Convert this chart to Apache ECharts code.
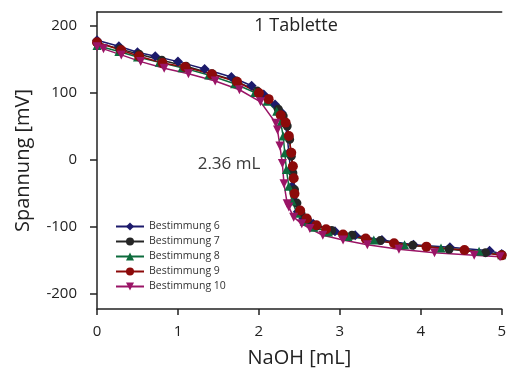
<!DOCTYPE html>
<html><head><meta charset="utf-8">
<script src="https://cdn.jsdelivr.net/npm/echarts@6/dist/echarts.min.js"></script>
<style>html,body{margin:0;padding:0;background:#fff}#c{width:509px;height:374px}</style>
</head><body><div id="c"></div>
<script>
const seriesNames = ['Bestimmung 6','Bestimmung 7','Bestimmung 8','Bestimmung 9','Bestimmung 10'];
const b6 = [[0,178],[0.27,169],[0.5,160],[0.72,154],[1.0,146],[1.33,135],[1.66,123],[1.91,110],[2.06,97],[2.2,82],[2.28,70],[2.32,55],[2.35,35],[2.37,10],[2.39,-15],[2.41,-40],[2.44,-62],[2.48,-78],[2.55,-88],[2.67,-96],[2.94,-107],[3.19,-113],[3.52,-120],[3.91,-127],[4.36,-131],[4.85,-136],[5.0,-141]];
const b7 = [[0,174],[0.28,165],[0.52,157],[0.8,148],[1.1,139],[1.42,128],[1.72,117],[1.98,102],[2.12,90],[2.24,75],[2.3,65],[2.35,50],[2.38,30],[2.4,5],[2.42,-20],[2.44,-45],[2.47,-65],[2.52,-80],[2.6,-90],[2.72,-99],[2.9,-106],[3.15,-113],[3.5,-121],[3.9,-128],[4.35,-134],[4.8,-139],[5.0,-142]];
const b8 = [[0,170],[0.27,161],[0.5,153],[0.77,145],[1.05,137],[1.38,126],[1.7,113],[1.95,100],[2.1,87],[2.22,72],[2.27,55],[2.3,35],[2.32,10],[2.34,-15],[2.37,-40],[2.41,-62],[2.47,-80],[2.56,-92],[2.68,-101],[2.86,-108],[3.1,-115],[3.42,-120],[3.8,-127],[4.25,-132],[4.72,-137],[5.0,-142]];
const b9 = [[0,175],[0.3,163],[0.52,154],[0.81,144],[1.09,138],[1.42,127],[1.73,116],[2.0,99],[2.12,90],[2.27,66],[2.33,55],[2.37,35],[2.4,10],[2.42,-10],[2.43,-28],[2.44,-51],[2.51,-76],[2.59,-88],[2.71,-98],[2.83,-104],[3.04,-112],[3.32,-118],[3.67,-125],[4.07,-130],[4.54,-135],[5.0,-143]];
const b10 = [[0,168],[0.08,165],[0.3,156],[0.54,146],[0.83,136],[1.13,128],[1.46,117],[1.76,104],[2.02,86],[2.21,54],[2.23,44],[2.26,20],[2.29,-6],[2.31,-36],[2.35,-66],[2.37,-71],[2.43,-86],[2.53,-96],[2.63,-103],[2.79,-113],[3.04,-120],[3.34,-127],[3.73,-134],[4.17,-139],[4.66,-143],[4.98,-145]];
const yTicks = [-200,-100,0,100,200];
const xTicks = [0,1,2,3,4,5];
const titleText = '1 Tablette';
const annotation = '2.36 mL';

const colors = ['#1c1a6b','#262626','#0d6b3c','#8c0a0a','#9a1466'];
const symbols = ['diamond','circle','triangle','circle','path://M0,0 L10,0 L5,9 Z'];
const sizes = [10,9,9,10,9];
const datas = [b6,b7,b8,b9,b10];
const font = '"Open Sans", sans-serif';

const chart = echarts.init(document.getElementById('c'));
chart.setOption({
  animation:false,
  textStyle:{fontFamily:font},
  grid:{left:97,right:1,top:12,bottom:65},
  legend:{
    orient:'vertical', left:115, top:221, padding:0, itemGap:4, itemWidth:28, itemHeight:10,
    textStyle:{fontSize:10.5,color:'#333',fontFamily:font},
    data:seriesNames
  },
  graphic:[
    {type:'text',z:1,style:{text:titleText,x:296,y:26,align:'center',verticalAlign:'middle',font:'18px "Open Sans", sans-serif',fill:'#222'}},
    {type:'text',z:1,style:{text:annotation,x:229,y:164,align:'center',verticalAlign:'middle',font:'17px "Open Sans", sans-serif',fill:'#3a3a3a'}}
  ],
  xAxis:[{
    type:'value', min:0, max:5, interval:1,
    name:'NaOH [mL]', nameLocation:'middle', nameGap:39,
    nameTextStyle:{fontSize:20,color:'#222',fontFamily:font},
    axisLine:{onZero:false,lineStyle:{color:'#222',width:1.5}},
    axisTick:{inside:false,length:6,lineStyle:{color:'#222',width:1.5}},
    axisLabel:{fontSize:15,color:'#222',margin:15,showMaxLabel:true,customValues:xTicks},
    splitLine:{show:false}
  },{
    type:'value', min:0, max:5, position:'top',
    axisLine:{show:true,onZero:false,lineStyle:{color:'#222',width:1.5}},
    axisTick:{show:false}, axisLabel:{show:false}, splitLine:{show:false}
  }],
  yAxis:{
    type:'value', min:-223, max:220,
    name:'Spannung [mV]', nameLocation:'middle', nameGap:64,
    nameTextStyle:{fontSize:20,color:'#222',fontFamily:font},
    axisLine:{show:true,onZero:false,lineStyle:{color:'#222',width:1.5}},
    axisTick:{show:true,length:7,lineStyle:{color:'#222',width:1.5},customValues:yTicks},
    axisLabel:{fontSize:15,color:'#222',margin:20,customValues:yTicks},
    splitLine:{show:false}
  },
  series: datas.map((d,i)=>({
    name:seriesNames[i], type:'line', data:d, xAxisIndex:0,
    symbol:symbols[i], symbolSize:sizes[i], showAllSymbol:true,
    itemStyle:{color:colors[i]}, lineStyle:{color:colors[i],width:1.5}
  }))
});
</script></body></html>
